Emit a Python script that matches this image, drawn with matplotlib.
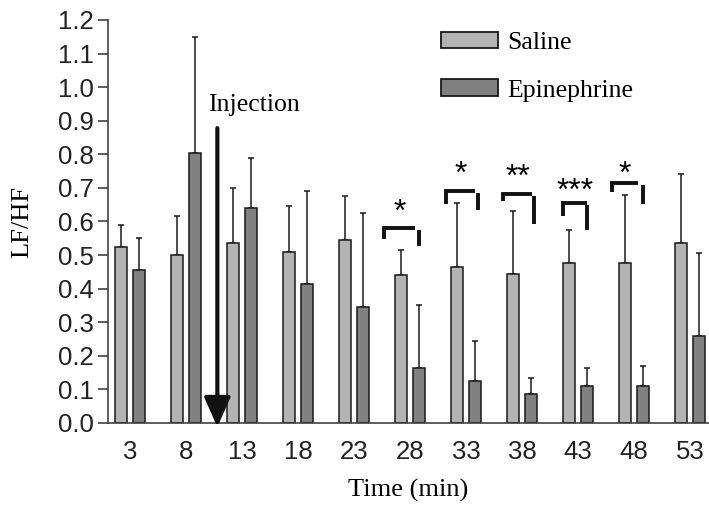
import matplotlib.pyplot as plt
import numpy as np
from matplotlib.patches import Patch

# Data
times = [3, 8, 13, 18, 23, 28, 33, 38, 43, 48, 53]
saline = [0.525, 0.50, 0.535, 0.51, 0.545, 0.44, 0.465, 0.445, 0.475, 0.475, 0.535]
saline_top = [0.59, 0.615, 0.70, 0.645, 0.675, 0.515, 0.655, 0.63, 0.575, 0.68, 0.74]
epi = [0.455, 0.805, 0.64, 0.415, 0.345, 0.165, 0.125, 0.085, 0.11, 0.11, 0.26]
epi_top = [0.55, 1.15, 0.79, 0.69, 0.625, 0.35, 0.245, 0.135, 0.165, 0.17, 0.505]

# significance brackets: time, stars
sig_times = [28, 33, 38, 43, 48]
sig_stars = ["*", "*", "**", "***", "*"]

saline_color = "#b3b3b3"
epi_color = "#808080"
serif = "Liberation Serif"
sans = "Liberation Sans"

fig = plt.figure(figsize=(7.09, 5.05), dpi=100)
ax = fig.add_axes([108 / 709, 1 - 423 / 505, 1 - 108 / 709, (423 - 20) / 505])

t = np.array(times)
off = 0.8
w = 1.07
ax.bar(t - off, saline, width=w, color=saline_color, edgecolor="#1a1a1a", linewidth=1.1, zorder=2)
ax.bar(t + off, epi, width=w, color=epi_color, edgecolor="#1a1a1a", linewidth=1.1, zorder=2)
ax.errorbar(t - off, saline, yerr=[np.zeros(len(t)), np.array(saline_top) - saline],
            fmt="none", ecolor="#1a1a1a", elinewidth=1.1, capsize=2.5, capthick=1.1, zorder=1)
ax.errorbar(t + off, epi, yerr=[np.zeros(len(t)), np.array(epi_top) - epi],
            fmt="none", ecolor="#1a1a1a", elinewidth=1.1, capsize=2.5, capthick=1.1, zorder=1)

# brackets (drawn relative to each group)
bracket_geom = [
    # left, right, y, left_bottom, rx, r_top, r_bottom, star_y
    (-2.3, 0.45, 0.581, 0.548, 0.8, 0.575, 0.527, 0.625),
    (-1.8, 0.8, 0.691, 0.652, 1.07, 0.685, 0.634, 0.738),
    (-1.7, 0.9, 0.682, 0.661, 1.07, 0.676, 0.593, 0.730),
    (-1.34, 0.8, 0.655, 0.616, 0.8, 0.649, 0.575, 0.688),
    (-1.96, 0.36, 0.715, 0.688, 0.8, 0.709, 0.652, 0.738),
]
for tt, s, g in zip(sig_times, sig_stars, bracket_geom):
    l, r, y, lb, rx, rt, rb, sy = g
    ax.plot([tt + l, tt + l, tt + r], [lb, y, y], color="#111111", lw=2.8,
            solid_capstyle="butt", solid_joinstyle="miter", zorder=3)
    ax.plot([tt + rx, tt + rx], [rb, rt], color="#111111", lw=2.8,
            solid_capstyle="butt", zorder=3)
    ax.text(tt + (l + r) / 2, sy, s, ha="center", va="center", fontsize=23,
            family=sans, zorder=3)

# injection arrow
ax.annotate("", xy=(10.77, -0.012), xytext=(10.77, 0.878), annotation_clip=False,
            arrowprops=dict(arrowstyle="-|>,head_width=0.4,head_length=0.9",
                            mutation_scale=20, color="#111111", lw=3,
                            shrinkA=0, shrinkB=0),
            zorder=4)
ax.text(9.97, 0.947, "Injection", ha="left", va="center", fontsize=18.5, family=serif)

ax.set_xlim(1.0, 54.7)
ax.set_ylim(0, 1.2)
ax.set_xticks(times)
ax.set_xticklabels([str(x) for x in times])
ax.set_yticks(np.arange(0, 1.21, 0.1))
ax.set_yticklabels([f"{v:.1f}" for v in np.arange(0, 1.21, 0.1)])
ax.tick_params(axis="x", length=0, pad=12, labelsize=18.5)
ax.tick_params(axis="y", length=7, width=1.1, pad=3, labelsize=18.5, color="#333333")
for lab in ax.get_xticklabels() + ax.get_yticklabels():
    lab.set_family(sans)
    lab.set_color("#222222")

for side in ["top", "right"]:
    ax.spines[side].set_visible(False)
for side in ["left", "bottom"]:
    ax.spines[side].set_linewidth(1.1)
    ax.spines[side].set_color("#333333")

ax.set_ylabel("LF/HF", family=serif, fontsize=19, labelpad=18)
ax.set_xlabel("Time (min)", family=serif, fontsize=19, labelpad=11)

handles = [Patch(facecolor=saline_color, edgecolor="#1a1a1a", linewidth=1.3),
           Patch(facecolor=epi_color, edgecolor="#1a1a1a", linewidth=1.3)]
fig.legend(handles, ["Saline", "Epinephrine"], loc="upper left",
           bbox_to_anchor=(441 / 709, 1 - 32 / 505), frameon=False,
           prop={"family": serif, "size": 18.5}, handlelength=2.2, handleheight=0.6,
           handletextpad=0.38, labelspacing=0.98, borderpad=0, borderaxespad=0)

fig.savefig("out.png", dpi=100)
